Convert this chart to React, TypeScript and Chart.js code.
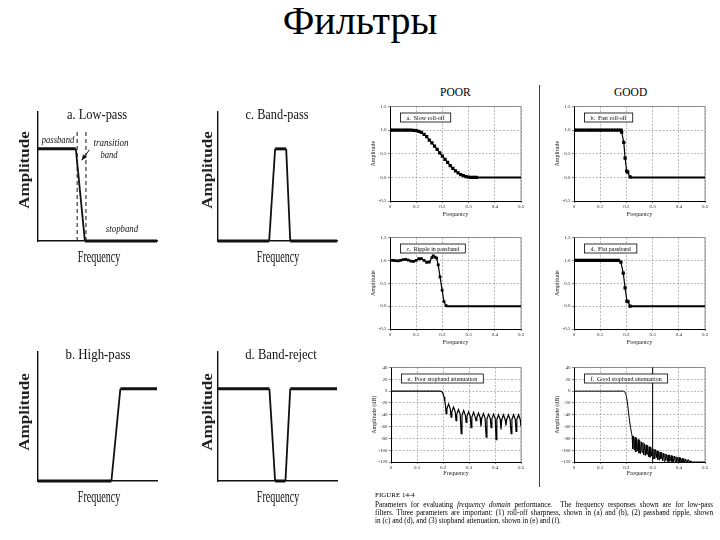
import React, { useEffect, useRef } from "react";
import { Chart, registerables } from "chart.js";

Chart.register(...registerables);

const SERIF = '"Liberation Serif", "Times New Roman", Times, serif';

/* ---------------- left-hand schematic data ---------------- */
const lowPassFreq = [0, 0.318, 0.394, 1];
const lowPassAmp = [1, 1, 0, 0];
const lowPassEdges = [0.329, 0.403];
const lowPassEdgeTop = 1.21;
const arrowTail = [0.432, 0.99];
const arrowHead = [0.367, 0.877];

const bandPassFreq = [0, 0.43, 0.48, 0.573, 0.607, 1];
const bandPassAmp = [0, 0, 1, 1, 0, 0];

const highPassFreq = [0, 0.617, 0.692, 1];
const highPassAmp = [0, 0, 1, 1];

const bandRejectFreq = [0, 0.432, 0.48, 0.567, 0.607, 1];
const bandRejectAmp = [1, 1, 0, 0, 1, 1];

/* ---------------- right-hand figure data ---------------- */
const freqTicks = [0, 0.1, 0.2, 0.3, 0.4, 0.5];
const ampTicks = [-0.5, 0, 0.5, 1, 1.5];
const dbTicks = [-120, -100, -80, -60, -40, -20, 0, 20, 40];

// a. Slow roll-off
const freqA = [0, 0.01, 0.02, 0.03, 0.04, 0.05, 0.06, 0.07, 0.08, 0.09, 0.1, 0.11, 0.12, 0.13, 0.14, 0.15, 0.16, 0.17, 0.18, 0.19, 0.2, 0.21, 0.22, 0.23, 0.24, 0.25, 0.26, 0.27, 0.28, 0.29, 0.3, 0.31, 0.32, 0.33];
const ampA = [1, 1, 1, 1, 1, 1, 1, 1, 1, 0.995, 0.99, 0.975, 0.95, 0.91, 0.86, 0.79, 0.73, 0.66, 0.59, 0.52, 0.45, 0.38, 0.315, 0.25, 0.19, 0.14, 0.095, 0.06, 0.035, 0.017, 0.007, 0.002, 0, 0];
const tailFreqA = [0.33, 0.5];
const tailAmpA = [0, 0];

// b. Fast roll-off
const freqB = [0, 0.01, 0.02, 0.03, 0.04, 0.05, 0.06, 0.07, 0.08, 0.09, 0.1, 0.11, 0.12, 0.13, 0.14, 0.15, 0.16, 0.17, 0.18, 0.182, 0.19, 0.195, 0.201, 0.205, 0.214];
const ampB = [1, 1, 1, 1, 1, 1, 1, 1, 1, 1, 1, 1, 1, 1, 1, 1, 1, 1, 1, 0.96, 0.74, 0.41, 0.13, 0.11, 0.01];
const tailFreqB = [0.214, 0.5];
const tailAmpB = [0, 0];

// c. Ripple in passband
const freqC = [0, 0.01, 0.02, 0.03, 0.04, 0.05, 0.06, 0.07, 0.08, 0.09, 0.1, 0.11, 0.12, 0.13, 0.14, 0.15, 0.16, 0.165, 0.172, 0.178, 0.184, 0.191, 0.199, 0.206, 0.214];
const ampC = [1, 1, 0.995, 0.99, 1, 1.015, 1.02, 1.005, 0.985, 0.98, 1, 1.035, 1.04, 1, 0.955, 0.965, 1.06, 1.1, 1.07, 1.05, 0.9, 0.64, 0.35, 0.1, 0.01];
const tailFreqC = [0.214, 0.5];
const tailAmpC = [0, 0];

// d. Flat passband
const freqD = [0, 0.01, 0.02, 0.03, 0.04, 0.05, 0.06, 0.07, 0.08, 0.09, 0.1, 0.11, 0.12, 0.13, 0.14, 0.15, 0.16, 0.17, 0.179, 0.188, 0.195, 0.202, 0.206, 0.214];
const ampD = [1, 1, 1, 1, 1, 1, 1, 1, 1, 1, 1, 1, 1, 1, 1, 1, 1, 1, 0.96, 0.72, 0.4, 0.11, 0.1, 0];
const tailFreqD = [0.214, 0.5];
const tailAmpD = [0, 0];

// e. Poor stopband attenuation (dB)
const freqE = [
  0, 0.18, 0.19, 0.196, 0.2, 0.204, 0.207, 0.21,
  0.212, 0.215, 0.2215, 0.228,
  0.231, 0.234, 0.2405, 0.247,
  0.25, 0.253, 0.2595, 0.266,
  0.27, 0.273, 0.2795, 0.286,
  0.289, 0.292, 0.2985, 0.305,
  0.308, 0.311, 0.3175, 0.324,
  0.327, 0.33, 0.3365, 0.343,
  0.346, 0.349, 0.3555, 0.362,
  0.366, 0.369, 0.3755, 0.382,
  0.385, 0.388, 0.3945, 0.401,
  0.404, 0.407, 0.4135, 0.42,
  0.423, 0.426, 0.4325, 0.439,
  0.442, 0.445, 0.4515, 0.458,
  0.462, 0.465, 0.4715, 0.478,
  0.481, 0.484, 0.4905, 0.497,
  0.5,
];
const dbE = [
  0, 0, 0, -1, -4, -10, -17, -26,
  -38, -30, -22, -30,
  -44, -35, -27, -35,
  -50, -39, -31, -39,
  -72, -41, -33, -41,
  -53, -43, -35, -43,
  -62, -44, -36, -44,
  -50, -45, -37, -45,
  -60, -46, -38, -46,
  -78, -47, -39, -47,
  -62, -47, -39, -47,
  -82, -48, -40, -48,
  -65, -48, -40, -48,
  -58, -48, -40, -48,
  -72, -48, -40, -48,
  -68, -48, -40, -48,
  -60,
];

// f. Good stopband attenuation (dB)
const freqF = [
  0, 0.19, 0.193, 0.197, 0.2, 0.204, 0.208, 0.212, 0.216, 0.22, 0.222,
  0.224, 0.227, 0.23, 0.233, 0.236, 0.239, 0.242, 0.245, 0.248, 0.251,
  0.254, 0.257, 0.26, 0.263, 0.266, 0.269, 0.272, 0.275, 0.278, 0.281,
  0.284, 0.287, 0.29, 0.293, 0.296, 0.299, 0.302, 0.305, 0.308, 0.311,
  0.314, 0.317, 0.32, 0.323, 0.326, 0.329, 0.332, 0.335, 0.338, 0.341,
  0.344, 0.347, 0.35, 0.353, 0.356, 0.359, 0.362, 0.365, 0.368, 0.371,
  0.374, 0.377, 0.38, 0.383, 0.386, 0.389, 0.392, 0.395, 0.398, 0.401,
  0.404, 0.407, 0.41, 0.413, 0.416, 0.419, 0.422, 0.425, 0.428, 0.431,
  0.434, 0.437, 0.44, 0.443, 0.446, 0.5,
];
const dbF = [
  0, 0, -1, -4, -9, -20, -35, -50, -62, -72, -76,
  -98, -76, -100, -78, -103, -80, -101, -82, -105, -84,
  -106, -86, -104, -87, -108, -89, -109, -91, -107, -92,
  -111, -94, -112, -95, -110, -97, -114, -98, -115, -99,
  -113, -101, -116, -102, -117, -103, -115, -104, -118, -105,
  -119, -106, -117, -107, -119, -108, -120, -108, -118, -109,
  -120, -110, -120, -110, -119, -111, -120, -112, -120, -112,
  -120, -113, -120, -114, -120, -114, -120, -115, -120, -116,
  -120, -116, -120, -118, -120, -120,
];
const markerFreqF = 0.3;

const caption = [
  "filters.  Three parameters are important: (1) roll-off sharpness, shown in (a) and (b), (2) passband ripple, shown",
  "in (c) and (d), and (3) stopband attenuation, shown in (e) and (f).",
];

/* ---------------- helpers ---------------- */
const pts = (xs: number[], ys: number[]) => xs.map((x, i) => ({ x, y: ys[i] }));

const arrowPlugin = {
  id: "arrow",
  afterDatasetsDraw(chart: any, _a: any, opts: any) {
    if (!opts || !opts.tail) return;
    const { ctx } = chart;
    const sx = chart.scales.x;
    const sy = chart.scales.y;
    const x1 = sx.getPixelForValue(opts.tail[0]);
    const y1 = sy.getPixelForValue(opts.tail[1]);
    const x2 = sx.getPixelForValue(opts.head[0]);
    const y2 = sy.getPixelForValue(opts.head[1]);
    const ang = Math.atan2(y2 - y1, x2 - x1);
    ctx.save();
    ctx.strokeStyle = "#111";
    ctx.fillStyle = "#111";
    ctx.lineWidth = 1;
    ctx.beginPath();
    ctx.moveTo(x1, y1);
    ctx.lineTo(x2, y2);
    ctx.stroke();
    const L = 6;
    ctx.beginPath();
    ctx.moveTo(x2, y2);
    ctx.lineTo(x2 - L * Math.cos(ang - 0.4), y2 - L * Math.sin(ang - 0.4));
    ctx.lineTo(x2 - L * Math.cos(ang + 0.4), y2 - L * Math.sin(ang + 0.4));
    ctx.closePath();
    ctx.fill();
    ctx.restore();
  },
};

const framePlugin = {
  id: "frame",
  beforeDatasetsDraw(chart: any, _a: any, opts: any) {
    const { ctx, chartArea: a } = chart;
    ctx.save();
    ctx.strokeStyle = "#777";
    ctx.lineWidth = 0.8;
    ctx.beginPath();
    ctx.moveTo(a.left, a.top);
    ctx.lineTo(a.right, a.top);
    ctx.lineTo(a.right, a.bottom);
    ctx.stroke();
    if (opts && typeof opts.solidX === "number") {
      const px = chart.scales.x.getPixelForValue(opts.solidX);
      ctx.strokeStyle = "#111";
      ctx.lineWidth = 1.1;
      ctx.beginPath();
      ctx.moveTo(px, a.top);
      ctx.lineTo(px, a.bottom);
      ctx.stroke();
    }
    ctx.restore();
  },
};

const boxLabelPlugin = {
  id: "boxLabel",
  afterDatasetsDraw(chart: any, _a: any, opts: any) {
    if (!opts || !opts.text) return;
    const { ctx, chartArea: a } = chart;
    ctx.save();
    ctx.font = `6px ${SERIF}`;
    const w = ctx.measureText(opts.text).width + 12;
    const h = 9;
    const x = a.left + 10.5;
    const y = a.top + 6.5;
    ctx.fillStyle = "#fff";
    ctx.fillRect(x, y, w, h);
    ctx.strokeStyle = "#000";
    ctx.lineWidth = 0.8;
    ctx.strokeRect(x, y, w, h);
    ctx.fillStyle = "#000";
    ctx.textBaseline = "middle";
    ctx.fillText(opts.text, x + 6, y + h / 2 + 0.5);
    ctx.restore();
  },
};

type Box = { x: number; y: number; w: number; h: number };

function ChartCanvas({ box, make }: { box: Box; make: () => any }) {
  const ref = useRef<HTMLCanvasElement>(null);
  useEffect(() => {
    const chart = new Chart(ref.current as HTMLCanvasElement, make());
    return () => chart.destroy();
  }, []);
  return (
    <canvas
      ref={ref}
      width={box.w}
      height={box.h}
      style={{ position: "absolute", left: box.x, top: box.y, width: box.w, height: box.h }}
    />
  );
}

/* ---------- schematic (left) ---------- */
const SPAD = 6;
function schematicBox(px: number, py: number, pw: number, ph: number): Box {
  return { x: px - SPAD, y: py - SPAD, w: pw + 2 * SPAD, h: ph + 2 * SPAD };
}

function signalDataset(xs: number[], ys: number[]) {
  return {
    data: pts(xs, ys),
    borderColor: "#111",
    borderWidth: 3,
    pointRadius: 0,
    clip: false,
    segment: {
      borderWidth: (c: any) => (c.p0.parsed.y === c.p1.parsed.y ? 3 : 1.8),
    },
  };
}

function schematicConfig(datasets: any[], pluginOpts: any = {}) {
  return {
    type: "line",
    data: { datasets },
    options: {
      animation: false,
      responsive: false,
      events: [],
      layout: { padding: SPAD },
      plugins: { legend: { display: false }, tooltip: { enabled: false }, ...pluginOpts },
      scales: {
        x: {
          type: "linear",
          min: 0,
          max: 1,
          ticks: { display: false },
          grid: { display: false },
          border: { display: true, color: "#111", width: 1.4 },
          afterFit: (s: any) => {
            s.height = 0;
          },
        },
        y: {
          type: "linear",
          min: 0,
          max: 1.4,
          ticks: { display: false },
          grid: { display: false },
          border: { display: true, color: "#111", width: 1.4 },
          afterFit: (s: any) => {
            s.width = 0;
          },
        },
      },
    },
    plugins: [arrowPlugin],
  };
}

/* ---------- figure (right) ---------- */
const YW = 20;
const PT = 4;
const PR = 6;
function figureBox(px: number, py: number, pw: number, ph: number, xh: number): Box {
  return { x: px - YW, y: py - PT, w: YW + pw + PR, h: PT + ph + xh };
}

function sampleDatasets(xs: number[], ys: number[], tx: number[], ty: number[], r: number) {
  return [
    {
      data: pts(xs, ys),
      borderColor: "#000",
      borderWidth: 1.2,
      pointStyle: "rect",
      pointRadius: r,
      pointBackgroundColor: "#000",
      pointBorderWidth: 0,
    },
    {
      data: pts(tx, ty),
      borderColor: "#000",
      borderWidth: 2,
      pointRadius: 0,
    },
  ];
}

function figureConfig(opts: {
  label: string;
  datasets: any[];
  db: boolean;
  xh: number;
  solidX?: number;
}) {
  const tickFont = { size: 5, family: SERIF };
  const titleFont = { size: 6, family: SERIF };
  return {
    type: "line",
    data: { datasets: opts.datasets },
    options: {
      animation: false,
      responsive: false,
      events: [],
      layout: { padding: { left: 0, top: PT, right: PR, bottom: 0 } },
      plugins: {
        legend: { display: false },
        tooltip: { enabled: false },
        boxLabel: { text: opts.label },
        frame: { solidX: opts.solidX },
      },
      scales: {
        x: {
          type: "linear",
          min: 0,
          max: 0.5,
          afterBuildTicks: (s: any) => {
            s.ticks = freqTicks.map((v) => ({ value: v }));
          },
          ticks: {
            font: tickFont,
            color: "#222",
            padding: 1,
            maxRotation: 0,
            autoSkip: false,
            callback: (v: any) => (Number(v) === 0 ? "0" : Number(v).toFixed(1)),
          },
          grid: { color: "#8a8a8a", lineWidth: 0.6, tickLength: 2, tickColor: "#333" },
          border: { display: true, color: "#000", width: 1, dash: [2, 1.5] },
          title: { display: true, text: "Frequency", font: titleFont, color: "#222", padding: 0 },
          afterFit: (s: any) => {
            s.height = opts.xh;
          },
        },
        y: {
          type: "linear",
          min: opts.db ? -120 : -0.5,
          max: opts.db ? 40 : 1.5,
          afterBuildTicks: (s: any) => {
            s.ticks = (opts.db ? dbTicks : ampTicks).map((v) => ({ value: v }));
          },
          ticks: {
            font: tickFont,
            color: "#222",
            padding: 1.5,
            autoSkip: false,
            callback: (v: any) => (opts.db ? String(v) : Number(v).toFixed(1)),
          },
          grid: { color: "#8a8a8a", lineWidth: 0.6, tickLength: 2, tickColor: "#333" },
          border: { display: true, color: "#000", width: 1, dash: [2, 1.5] },
          title: {
            display: true,
            text: opts.db ? "Amplitude (dB)" : "Amplitude",
            font: titleFont,
            color: "#222",
            padding: 0,
          },
          afterFit: (s: any) => {
            s.width = YW;
          },
        },
      },
    },
    plugins: [framePlugin, boxLabelPlugin],
  };
}

/* ---------- text overlays ---------- */
type Lbl = {
  t: string;
  x: number;
  y: number;
  size: number;
  sx?: number;
  italic?: boolean;
  bold?: boolean;
  rot?: boolean;
};

const schematicTexts: Lbl[] = [
  { t: "a. Low-pass", x: 96.7, y: 114.6, size: 14, sx: 0.89 },
  { t: "c. Band-pass", x: 276.7, y: 114.6, size: 14, sx: 0.88 },
  { t: "b. High-pass", x: 97.5, y: 354.6, size: 14, sx: 0.92 },
  { t: "d. Band-reject", x: 281, y: 354.6, size: 14, sx: 0.9 },
  { t: "Frequency", x: 99, y: 256, size: 17, sx: 0.59 },
  { t: "Frequency", x: 278, y: 256, size: 17, sx: 0.59 },
  { t: "Frequency", x: 99, y: 496, size: 17, sx: 0.59 },
  { t: "Frequency", x: 278, y: 496, size: 17, sx: 0.59 },
  { t: "Amplitude", x: 24.5, y: 170, size: 17, sx: 0.8, bold: true, rot: true },
  { t: "Amplitude", x: 207.5, y: 170, size: 17, sx: 0.8, bold: true, rot: true },
  { t: "Amplitude", x: 24.5, y: 411.5, size: 17, sx: 0.8, bold: true, rot: true },
  { t: "Amplitude", x: 207.5, y: 412, size: 17, sx: 0.8, bold: true, rot: true },
  { t: "passband", x: 57.5, y: 138.5, size: 11, sx: 0.78, italic: true },
  { t: "transition", x: 110.5, y: 141.5, size: 11, sx: 0.82, italic: true },
  { t: "band", x: 108.5, y: 153.5, size: 11, sx: 0.78, italic: true },
  { t: "stopband", x: 122, y: 227.5, size: 11, sx: 0.8, italic: true },
];

function Label({ l }: { l: Lbl }) {
  const s = l.sx ?? 1;
  const tf = l.rot
    ? `translate(-50%, -50%) rotate(-90deg) scale(1, ${s})`
    : `translate(-50%, -50%) scale(${s}, 1)`;
  return (
    <div
      style={{
        position: "absolute",
        left: l.x,
        top: l.y,
        transform: tf,
        whiteSpace: "nowrap",
        fontFamily: SERIF,
        fontSize: l.size,
        lineHeight: `${l.size}px`,
        fontStyle: l.italic ? "italic" : "normal",
        fontWeight: l.bold ? 700 : 400,
        color: l.bold ? "#222" : "#111",
      }}
    >
      {l.t}
    </div>
  );
}

export default function App() {
  const lpBox = schematicBox(38, 112, 119, 129);
  const bpBox = schematicBox(218, 112, 119, 129);
  const hpBox = schematicBox(38, 352, 119, 129);
  const brBox = schematicBox(218, 352, 119, 129);

  const aBox = figureBox(390, 106, 131, 95, 17);
  const bBox = figureBox(574, 106, 131, 95, 17);
  const cBox = figureBox(390, 237, 131, 92, 17);
  const dBox = figureBox(574, 237, 131, 92, 17);
  const eBox = figureBox(391, 367, 130, 95, 15);
  const fBox = figureBox(574, 367, 131, 95, 15);

  return (
    <div style={{ position: "absolute", left: 0, top: 0, width: 720, height: 540, background: "#fff", overflow: "hidden" }}>
      <div
        style={{
          position: "absolute",
          left: 0,
          top: 1,
          width: 720,
          textAlign: "center",
          fontFamily: SERIF,
          fontSize: 40,
          lineHeight: "40px",
          color: "#000",
        }}
      >
        Фильтры
      </div>

      <ChartCanvas
        box={lpBox}
        make={() =>
          schematicConfig(
            [
              signalDataset(lowPassFreq, lowPassAmp),
              {
                data: pts([lowPassEdges[0], lowPassEdges[0]], [0, lowPassEdgeTop]),
                borderColor: "#111",
                borderWidth: 1,
                borderDash: [4, 3],
                pointRadius: 0,
              },
              {
                data: pts([lowPassEdges[1], lowPassEdges[1]], [0, lowPassEdgeTop]),
                borderColor: "#111",
                borderWidth: 1,
                borderDash: [4, 3],
                pointRadius: 0,
              },
            ],
            { arrow: { tail: arrowTail, head: arrowHead } }
          )
        }
      />
      <ChartCanvas box={bpBox} make={() => schematicConfig([signalDataset(bandPassFreq, bandPassAmp)])} />
      <ChartCanvas box={hpBox} make={() => schematicConfig([signalDataset(highPassFreq, highPassAmp)])} />
      <ChartCanvas box={brBox} make={() => schematicConfig([signalDataset(bandRejectFreq, bandRejectAmp)])} />

      {schematicTexts.map((l, i) => (
        <Label key={i} l={l} />
      ))}

      <div style={{ position: "absolute", left: 440, top: 86, width: 30, textAlign: "center", fontFamily: SERIF, fontSize: 11.5, lineHeight: "12px", whiteSpace: "nowrap" }}>
        POOR
      </div>
      <div style={{ position: "absolute", left: 614, top: 86, width: 30, textAlign: "center", fontFamily: SERIF, fontSize: 11.5, lineHeight: "12px", whiteSpace: "nowrap" }}>
        GOOD
      </div>
      <div style={{ position: "absolute", left: 538.5, top: 85, width: 1.5, height: 402, background: "#444" }} />

      <ChartCanvas
        box={aBox}
        make={() => figureConfig({ label: "a.  Slow roll-off", db: false, xh: 17, datasets: sampleDatasets(freqA, ampA, tailFreqA, tailAmpA, 2.3) })}
      />
      <ChartCanvas
        box={bBox}
        make={() => figureConfig({ label: "b.  Fast roll-off", db: false, xh: 17, datasets: sampleDatasets(freqB, ampB, tailFreqB, tailAmpB, 2.3) })}
      />
      <ChartCanvas
        box={cBox}
        make={() => figureConfig({ label: "c.  Ripple in passband", db: false, xh: 17, datasets: sampleDatasets(freqC, ampC, tailFreqC, tailAmpC, 2.0) })}
      />
      <ChartCanvas
        box={dBox}
        make={() => figureConfig({ label: "d.  Flat passband", db: false, xh: 17, datasets: sampleDatasets(freqD, ampD, tailFreqD, tailAmpD, 2.3) })}
      />
      <ChartCanvas
        box={eBox}
        make={() =>
          figureConfig({
            label: "e.  Poor stopband attenuation",
            db: true,
            xh: 15,
            datasets: [{ data: pts(freqE, dbE), borderColor: "#000", borderWidth: 1.2, pointRadius: 0 }],
          })
        }
      />
      <ChartCanvas
        box={fBox}
        make={() =>
          figureConfig({
            label: "f.  Good stopband attenuation",
            db: true,
            xh: 15,
            solidX: markerFreqF,
            datasets: [{ data: pts(freqF, dbF), borderColor: "#000", borderWidth: 1, pointRadius: 0 }],
          })
        }
      />

      <div style={{ position: "absolute", left: 375, top: 490.5, fontFamily: SERIF, fontSize: 7, lineHeight: "9px", whiteSpace: "nowrap" }}>
        FIGURE 14-4
      </div>
      <div style={{ position: "absolute", left: 375, top: 500.5, width: 338, fontFamily: SERIF, fontSize: 7.2, lineHeight: "8.4px", color: "#000" }}>
        <div style={{ textAlign: "justify", textAlignLast: "justify", whiteSpace: "nowrap" }}>
          Parameters for evaluating <i>frequency domain</i> performance.&nbsp; The frequency responses shown are for low-pass
        </div>
        <div style={{ textAlign: "justify", textAlignLast: "justify", whiteSpace: "nowrap" }}>{caption[0]}</div>
        <div style={{ whiteSpace: "nowrap" }}>{caption[1]}</div>
      </div>
    </div>
  );
}
